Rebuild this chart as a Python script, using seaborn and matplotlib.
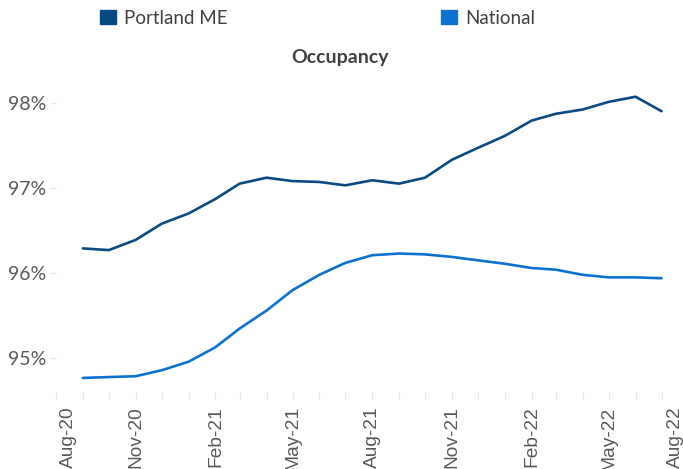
import matplotlib
matplotlib.use("Agg")
import matplotlib.pyplot as plt
import matplotlib.dates as mdates
import matplotlib.transforms as mtransforms
from matplotlib.patches import Patch
import pandas as pd
import seaborn as sns

# Monthly occupancy, Sep-20 through Jul-22
months = pd.date_range("2020-09-01", periods=23, freq="MS")
portland = [96.29, 96.27, 96.39, 96.58, 96.70, 96.87, 97.05, 97.12, 97.08, 97.07, 97.03, 97.09,
            97.05, 97.12, 97.33, 97.47, 97.61, 97.79, 97.87, 97.92, 98.01, 98.07, 97.90]
national = [94.77, 94.78, 94.79, 94.86, 94.96, 95.13, 95.35, 95.56, 95.80, 95.98, 96.12, 96.21,
            96.23, 96.22, 96.19, 96.15, 96.11, 96.06, 96.04, 95.98, 95.95, 95.95, 95.94]
series_names = ["Portland ME", "National"]
colors = ["#0a4a82", "#0b72cf"]

df = pd.concat([
    pd.DataFrame({"month": months, "occupancy": portland, "market": series_names[0]}),
    pd.DataFrame({"month": months, "occupancy": national, "market": series_names[1]}),
])

sns.set_style("white")
plt.rcParams["font.family"] = ["Lato", "DejaVu Sans"]

W, H = 683, 469
fig = plt.figure(figsize=(W / 100, H / 100), dpi=100)
ax = fig.add_axes([56 / W, (H - 392.4) / H, 632.4 / W, 332.3 / H])

sns.lineplot(data=df, x="month", y="occupancy", hue="market", palette=colors,
             linewidth=1.9, legend=False, ax=ax)

ax.set_xlim(pd.Timestamp("2020-08-01"), pd.Timestamp("2022-08-01"))
ax.set_ylim(94.6, 98.5)
ax.set_yticks([95, 96, 97, 98])
ax.set_yticklabels([f"{v}%" for v in [95, 96, 97, 98]])

ax.xaxis.set_major_locator(mdates.MonthLocator(bymonth=[2, 5, 8, 11]))
ax.xaxis.set_minor_locator(mdates.MonthLocator())
ax.xaxis.set_major_formatter(mdates.DateFormatter("%b-%y"))

for s in ax.spines.values():
    s.set_visible(False)
ax.set_xlabel("")
ax.set_ylabel("")

ax.tick_params(axis="y", which="major", left=True, length=4, width=0.8, color="#e6e6e6",
               labelsize=14, labelcolor="#595959", pad=3)
ax.tick_params(axis="x", which="both", bottom=True, length=5, width=0.8, color="#e6e6e6",
               direction="out")
ax.tick_params(axis="x", which="major", labelsize=13.8, labelcolor="#595959", pad=5)
for lab in ax.get_xticklabels():
    lab.set_rotation(90)
    lab.set_fontfamily(["Liberation Sans", "DejaVu Sans"])

# nudge the edge labels inward like the original
xl = ax.get_xticklabels()
xl[0].set_transform(xl[0].get_transform() + mtransforms.ScaledTranslation(12 / 100, 0, fig.dpi_scale_trans))
xl[-1].set_transform(xl[-1].get_transform() + mtransforms.ScaledTranslation(-13 / 100, 0, fig.dpi_scale_trans))

# legend entries placed separately
leg_x = [100, 441]
for name, col, lx in zip(series_names, colors, leg_x):
    lg = fig.legend(handles=[Patch(facecolor=col, edgecolor=col, label=name)],
                    loc="center left", bbox_to_anchor=(lx / W, 1 - 18 / H),
                    frameon=False, borderpad=0, borderaxespad=0,
                    handlelength=0.85, handleheight=0.85, handletextpad=0.45,
                    prop={"size": 13.5})
    for t in lg.get_texts():
        t.set_color("#404040")

fig.text(340.5 / W, 1 - 57 / H, "Occupancy", ha="center", va="center",
         fontsize=14, fontweight="bold", color="#404040")

fig.savefig("out.png", dpi=100)
